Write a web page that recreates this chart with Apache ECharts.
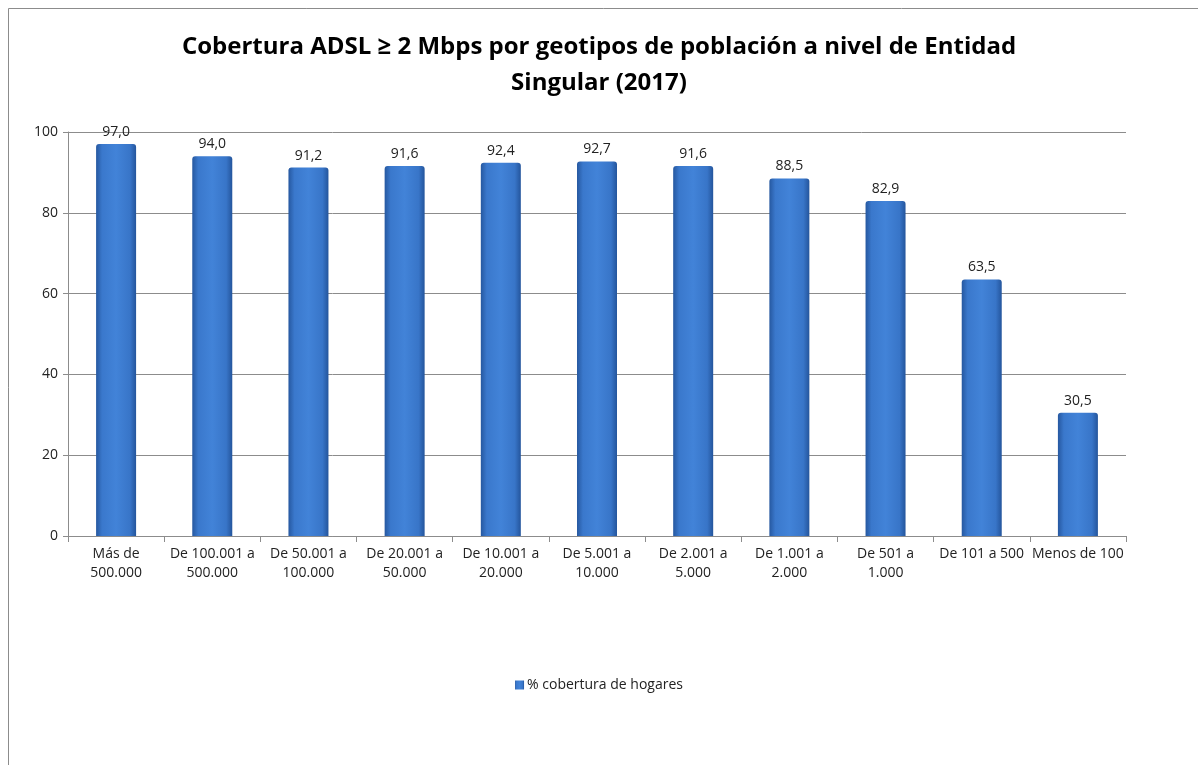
<!DOCTYPE html>
<html>
<head>
<meta charset="utf-8">
<script src="https://cdn.jsdelivr.net/npm/echarts@6/dist/echarts.min.js"></script>
<style>
  html, body { margin: 0; padding: 0; background: #fff; }
  #chart { width: 1198px; height: 765px; }
</style>
</head>
<body>
<div id="chart"></div>
<script>
// datos del gráfico
const categorias = ['Más de\n500.000', 'De 100.001 a\n500.000', 'De 50.001 a\n100.000', 'De 20.001 a\n50.000',
  'De 10.001 a\n20.000', 'De 5.001 a\n10.000', 'De 2.001 a\n5.000', 'De 1.001 a\n2.000', 'De 501 a\n1.000',
  'De 101 a 500', 'Menos de 100'];
const cobertura = [97.0, 94.0, 91.2, 91.6, 92.4, 92.7, 91.6, 88.5, 82.9, 63.5, 30.5];
const nombreSerie = '% cobertura de hogares';

const fuente = '"Open Sans", sans-serif';

let myChart = echarts.init(document.getElementById('chart'));
myChart.setOption({
  backgroundColor: '#fff',
  textStyle: { fontFamily: fuente },
  // marco exterior
  graphic: [{
    type: 'rect',
    shape: { x: 8.5, y: 8.5, width: 1300, height: 900 },
    style: { fill: 'none', stroke: '#8c8c8c', lineWidth: 1 }
  }],
  title: {
    text: 'Cobertura ADSL ≥ 2 Mbps por geotipos de población a nivel de Entidad\nSingular (2017)',
    left: 'center',
    top: 24,
    textStyle: { fontSize: 24, fontWeight: 'bold', color: '#000', lineHeight: 36, fontFamily: fuente }
  },
  legend: {
    bottom: 68,
    left: 'center',
    itemWidth: 9,
    itemHeight: 9,
    icon: 'rect',
    itemGap: 4,
    textStyle: { fontSize: 14, color: '#222', padding: [0, 0, 0, -2] },
    data: [nombreSerie]
  },
  grid: {
    left: 68,
    right: 72,
    top: 132,
    bottom: 229,
    containLabel: false
  },
  xAxis: {
    type: 'category',
    data: categorias,
    axisLine: { lineStyle: { color: '#8c8c8c' } },
    axisTick: { show: true, alignWithLabel: false, length: 6, lineStyle: { color: '#8c8c8c' } },
    axisLabel: { interval: 0, fontSize: 14, color: '#222', lineHeight: 19, margin: 9 }
  },
  yAxis: {
    type: 'value',
    min: 0,
    max: 100,
    interval: 20,
    axisLine: { show: true, lineStyle: { color: '#8c8c8c' } },
    axisTick: { show: true, length: 5, lineStyle: { color: '#8c8c8c' } },
    axisLabel: { fontSize: 14, color: '#222', margin: 10 },
    splitLine: { lineStyle: { color: '#8c8c8c' } }
  },
  series: [{
    name: nombreSerie,
    type: 'bar',
    barWidth: 40,
    data: cobertura,
    itemStyle: {
      borderRadius: [3, 3, 0, 0],
      color: new echarts.graphic.LinearGradient(0, 0, 1, 0, [
        { offset: 0, color: '#2658a0' },
        { offset: 0.15, color: '#3a78cc' },
        { offset: 0.5, color: '#4283d8' },
        { offset: 0.85, color: '#3875c8' },
        { offset: 1, color: '#24559c' }
      ])
    },
    label: {
      show: true,
      position: 'top',
      distance: 5,
      fontSize: 14,
      color: '#222',
      formatter: p => p.value.toFixed(1).replace('.', ',')
    }
  }]
});
</script>
</body>
</html>
